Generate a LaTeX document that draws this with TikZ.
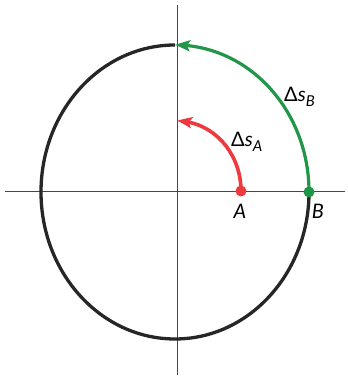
\documentclass[tikz,border=0pt]{standalone}
\usepackage{fontspec}
\setmainfont{Lato}
\usetikzlibrary{arrows.meta,bending}
\definecolor{arcgreen}{RGB}{34,150,72}
\definecolor{arcred}{RGB}{238,58,62}
\definecolor{axisgray}{RGB}{70,70,70}
\begin{document}
\begin{tikzpicture}[x=1pt,y=1pt,
  axisline/.style={draw=axisgray, line width=0.9pt},
  circline/.style={draw=black!85, line width=3.3pt},
  dot/.style={circle, inner sep=0pt, minimum size=11pt},
  lbl/.style={font=\fontsize{20}{20}\selectfont\itshape, inner sep=0pt},
  tip/.style={-{Stealth[length=15pt,width=11pt,inset=3pt,bend]}}]
\useasboundingbox (0,0) rectangle (347,379);
\fill[white] (0,0) rectangle (347,379);
% axes
\coordinate (xl) at (5,188);
\coordinate (xr) at (345,188);
\coordinate (yt) at (177,374);
\coordinate (yb) at (177,4);
\draw[axisline] (xl) -- (xr);
\draw[axisline] (yb) -- (yt);
% points
\coordinate (Bp) at (309,187);
\coordinate (Ap) at (241,188);
\coordinate (Top) at (175,334);
% black part of circle
\draw[circline] (Top) arc[start angle=90, end angle=360, x radius=134, y radius=147];
% green arc
\draw[arcgreen, line width=3.2pt, tip] (Bp) arc[start angle=0, end angle=90, x radius=134, y radius=147];
% red arc
\draw[arcred, line width=3.6pt, tip] (Ap) arc[start angle=0, end angle=90, x radius=64, y radius=70];
% dots
\node[dot, fill=arcgreen] (B) at (Bp) {};
\node[dot, fill=arcred] (A) at (Ap) {};
% labels
\node[lbl] (la) at (240,168) {A};
\node[lbl] (lb) at (318,168) {B};
\node[lbl, anchor=base west] (dsb) at (284,277) {{\upshape Δ}s\raisebox{-5pt}{\fontsize{15}{15}\selectfont B}};
\node[lbl, anchor=base west] (dsa) at (231,232) {{\upshape Δ}s\raisebox{-5pt}{\fontsize{15}{15}\selectfont A}};
\end{tikzpicture}
\end{document}
